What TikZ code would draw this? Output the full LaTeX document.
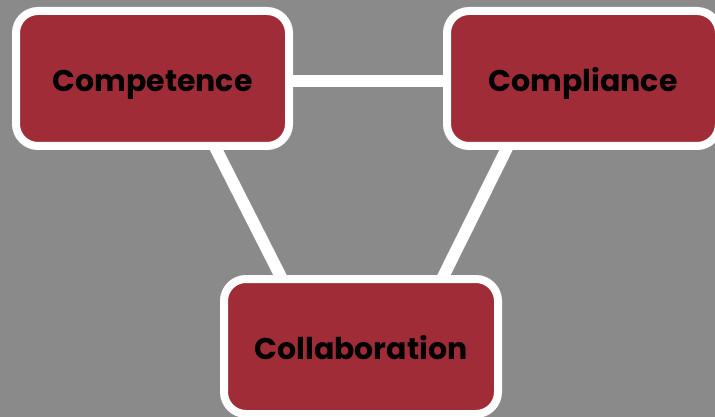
\documentclass[tikz,border=0pt]{standalone}
\usepackage{fontspec}
\setmainfont{Poppins}
\usetikzlibrary{positioning, backgrounds}

\definecolor{boxred}{HTML}{A02C38}
\definecolor{backgray}{HTML}{8A8A8A}

\tikzset{
	cbox/.style={draw=white, fill=boxred, line width=8pt, rounded corners=22pt,
		minimum width=273pt, minimum height=135pt, inner sep=0pt, outer sep=0pt,
		font=\fontsize{30}{32}\selectfont\bfseries, text=black,
		text height=31pt, text depth=5pt},
	link/.style={draw=white, line width=12pt}
}

\begin{document}
\begin{tikzpicture}[x=1pt, y=-1pt]
		\useasboundingbox (0,0) rectangle (715,417);

		\node[cbox] (competence) at (152.5,78.5) {Competence};
		\node[cbox, minimum width=272pt] (compliance) at (583,78.5) {Compliance};
		\node[cbox, minimum width=274pt] (collab) at (361,346.5) {Collaboration};

		\begin{scope}[on background layer]
			\fill[backgray] (0,0) rectangle (715,417);
			\draw[link] ([yshift=-3pt]competence.east) -- ([yshift=-3pt]compliance.west);
			\draw[link] ([xshift=62pt]competence.south) -- ([xshift=-79pt]collab.north);
			\draw[link] ([xshift=-75pt]compliance.south) -- ([xshift=81pt]collab.north);
		\end{scope}
	\end{tikzpicture}
\end{document}
